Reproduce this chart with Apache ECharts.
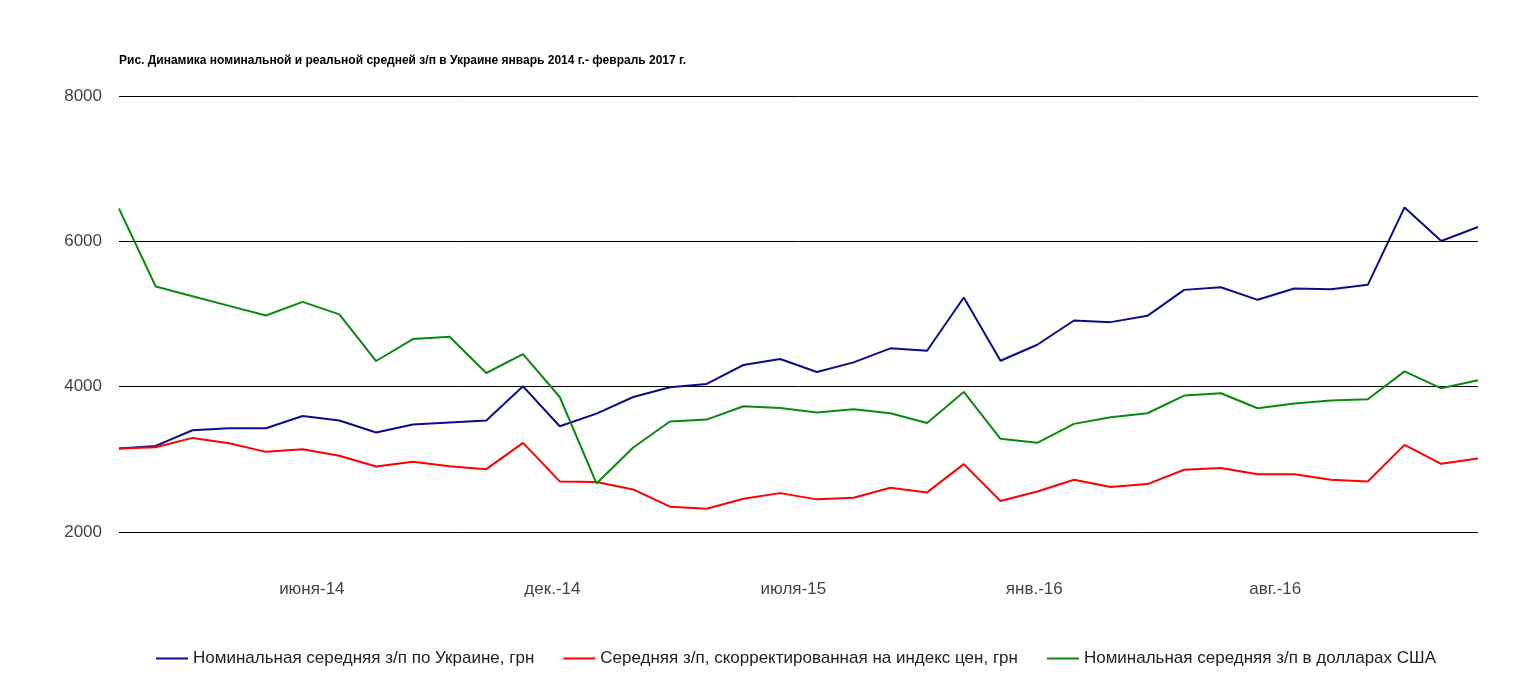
<!DOCTYPE html>
<html>
<head>
<meta charset="utf-8">
<script src="https://cdn.jsdelivr.net/npm/echarts@6/dist/echarts.min.js"></script>
<style>
html,body{margin:0;padding:0;background:#fff;}
#chart{width:1518px;height:687px;}
</style>
</head>
<body>
<div id="chart"></div>
<script>
// Months: January 2014 – February 2017
const months = [
  '2014-01','2014-02','2014-03','2014-04','2014-05','2014-06','2014-07','2014-08','2014-09','2014-10','2014-11','2014-12',
  '2015-01','2015-02','2015-03','2015-04','2015-05','2015-06','2015-07','2015-08','2015-09','2015-10','2015-11','2015-12',
  '2016-01','2016-02','2016-03','2016-04','2016-05','2016-06','2016-07','2016-08','2016-09','2016-10','2016-11','2016-12',
  '2017-01','2017-02'
];
const nominalUAH = [
  3149,3185,3400,3428,3428,3597,3535,3369,3478,3506,3533,4005,
  3455,3629,3858,3991,4037,4298,4380,4201,4334,4527,4494,5227,
  4357,4577,4911,4888,4975,5332,5369,5195,5350,5341,5401,6467,
  6005,6197
];
const realUAH = [
  3149,3167,3295,3222,3103,3140,3050,2902,2966,2906,2865,3227,
  2696,2687,2586,2348,2320,2458,2535,2449,2471,2609,2545,2934,
  2426,2558,2719,2618,2659,2856,2881,2796,2796,2719,2696,3199,
  2938,3012
];
const nominalUSD = [
  6450,5378,5245,5112,4980,5167,4995,4353,4655,4687,4188,4449,
  3858,2668,3163,3520,3547,3730,3707,3643,3689,3634,3501,3927,
  3282,3227,3488,3579,3634,3877,3909,3703,3767,3808,3826,4211,
  3977,4087
];
const seriesNames = [
  'Номинальная середняя з/п по Украине, грн',
  'Середняя з/п, скорректированная на индекс цен, грн',
  'Номинальная середняя з/п в долларах США'
];
const tickLabels = ['июня-14','дек.-14','июля-15','янв.-16','авг.-16'];
const tickPos = [5.25, 11.8, 18.36, 24.92, 31.48];
const yTicks = [2000, 4000, 6000, 8000];
const titleText = 'Рис. Динамика номинальной и реальной средней з/п в Украине январь 2014 г.- февраль 2017 г.';

const toPairs = arr => arr.map((v, i) => [i, v]);
const colors = ['#0c0c8a', '#ff0000', '#0a8a0a'];
const dataSets = [nominalUAH, realUAH, nominalUSD];
const FONT = 'Liberation Sans, Arial, sans-serif';

const chart = echarts.init(document.getElementById('chart'));
chart.setOption({
  animation: false,
  title: {
    text: titleText,
    left: 119, top: 55, padding: 0,
    textStyle: {fontFamily: FONT, fontSize: 12, fontWeight: 'bold', color: '#000'}
  },
  grid: {left: 119, right: 40, top: 96, bottom: 155},
  legend: {
    bottom: 20,
    left: 156,
    padding: 0,
    icon: 'rect',
    itemWidth: 32, itemHeight: 2,
    itemGap: 29,
    textStyle: {fontFamily: FONT, fontSize: 17, color: '#222'},
    data: seriesNames
  },
  xAxis: {
    type: 'value',
    min: 0, max: months.length - 1,
    axisLine: {show: false},
    axisTick: {show: false},
    splitLine: {show: false},
    axisLabel: {
      customValues: tickPos,
      margin: 49,
      fontFamily: FONT,
      fontSize: 17, color: '#444',
      formatter: function (v) {
        let best = 0, d = Infinity;
        tickPos.forEach((p, i) => { if (Math.abs(p - v) < d) { d = Math.abs(p - v); best = i; } });
        return tickLabels[best];
      }
    }
  },
  yAxis: {
    type: 'value',
    min: yTicks[0], max: yTicks[yTicks.length - 1], interval: 2000,
    axisLine: {show: false},
    axisTick: {show: false},
    splitLine: {lineStyle: {color: '#000', width: 1}},
    axisLabel: {margin: 17, fontFamily: FONT, fontSize: 17, color: '#444', formatter: v => String(v)}
  },
  series: dataSets.map((d, i) => ({
    name: seriesNames[i],
    type: 'line',
    data: toPairs(d),
    showSymbol: false,
    symbol: 'none',
    lineStyle: {width: 2, color: colors[i]},
    itemStyle: {color: colors[i]}
  }))
});
</script>
</body>
</html>
